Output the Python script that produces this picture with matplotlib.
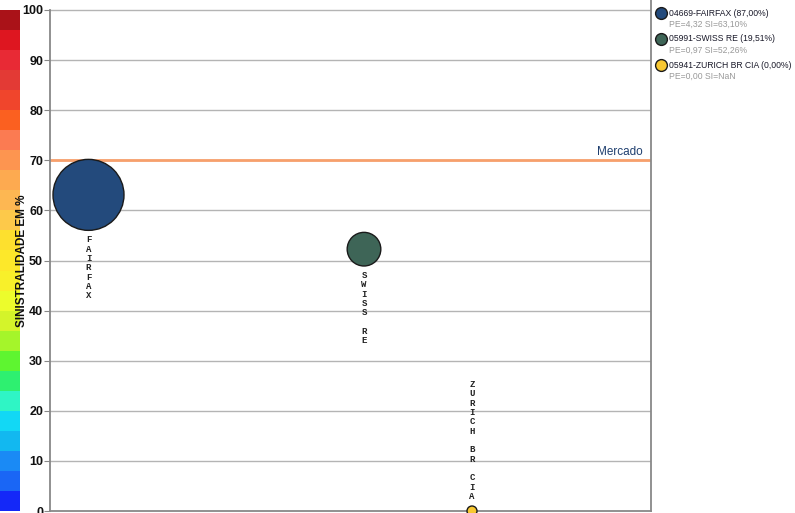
import numpy as np
import matplotlib.pyplot as plt

# data
names = ["FAIRFAX", "SWISS RE", "ZURICH BR CIA"]
codes = ["04669", "05991", "05941"]
shares = ["87,00%", "19,51%", "0,00%"]
pe = [4.32, 0.97, 0.00]
si = [63.10, 52.26, 0.0]
si_text = ["63,10%", "52,26%", "NaN"]
xpos = [38.5, 314, 422]
colors = ["#234a7c", "#3e6557", "#f8c832"]
mercado = 70

band_colors = ["#1428f8", "#1a66f5", "#1a8af5", "#12b8f0", "#12d8f5",
               "#2ff5c5", "#2ef070", "#5ef530", "#a5f52a", "#d4f42a",
               "#ecfc2c", "#f8f02a", "#fde82a", "#fde02e", "#fdc94a",
               "#fdb752", "#fdaa50", "#fd9550", "#fb7b52", "#fb6020",
               "#f0452c", "#e33a35", "#e82a35", "#de1620", "#aa1218"]

plt.rcParams["font.family"] = ["Liberation Sans", "DejaVu Sans"]

fig = plt.figure(figsize=(7.95, 5.13), dpi=100)
ytop = 100 * 511 / 501.0

# colour scale on the left (added first so the axis label sits on top)
cax = fig.add_axes([0, 2 / 513, 20 / 795, 511 / 513])
cax.set_xlim(0, 1)
cax.set_ylim(0, ytop)
step = 100 / len(band_colors)
cax.bar(np.zeros(len(band_colors)) + 0.5, step, bottom=np.arange(len(band_colors)) * step,
        width=1, color=band_colors, linewidth=0)
cax.axis("off")

ax = fig.add_axes([50 / 795, 2 / 513, 601 / 795, 511 / 513])
ax.set_xlim(0, 601)
ax.set_ylim(0, ytop)
ax.patch.set_alpha(0)

for y in range(10, 101, 10):
    ax.axhline(y, color="#b4b4b4", lw=1, zorder=0)

ax.axhline(mercado, color="#f7a06c", lw=2, zorder=1)
ax.text(593, mercado + 0.4, "Mercado", ha="right", va="bottom", fontsize=8.5, color="#1f3f6f")

radius_px = [max(17.08 * np.sqrt(p), 5) for p in pe]
sizes = [(2 * r * 0.72) ** 2 for r in radius_px]
ax.scatter(xpos, si, s=sizes, c=colors, edgecolors="#1a1a1a", linewidths=1, zorder=3, clip_on=False)

px_per_unit = 501 / 100.0
for x, y, r, n in zip(xpos, si, radius_px, names):
    txt = "\n".join(list(n))
    if y > 20:
        ypos, va = y - (r + 5) / px_per_unit, "top"
    else:
        ypos, va = y + (r + 5) / px_per_unit, "bottom"
    ax.text(x, ypos, txt, ha="center", va=va, fontsize=6.5,
            family=["Liberation Mono", "DejaVu Sans Mono"], weight="bold",
            linespacing=1.05, color="#222222", zorder=4)

ax.set_xticks([])
ax.set_yticks(range(0, 101, 10))
ax.tick_params(axis="y", length=4, color="#888888", pad=1)
for lab in ax.get_yticklabels():
    lab.set_fontweight("bold")
    lab.set_fontsize(9)
    lab.set_color("#111111")
ax.spines["top"].set_visible(False)
ax.spines["left"].set_bounds(0, 100)
for s in ["left", "right", "bottom"]:
    ax.spines[s].set_color("#888888")
    ax.spines[s].set_linewidth(1.3)
ax.set_ylabel("SINISTRALIDADE EM %", fontsize=8.5, fontweight="bold", color="#111111")
ax.yaxis.set_label_coords(-0.036, 0.49)

# legend
for i in range(len(names)):
    ytxt = 1 - (13 + 26 * i) / 513
    fig.add_artist(plt.Line2D([661 / 795], [ytxt], marker="o", markersize=8.5,
                              markerfacecolor=colors[i], markeredgecolor="#1a1a1a",
                              markeredgewidth=1, transform=fig.transFigure))
    fig.text(669 / 795, ytxt, f"{codes[i]}-{names[i]} ({shares[i]})", fontsize=6.2,
             color="#1a1a2a", va="center")
    fig.text(669 / 795, ytxt - 11 / 513, f"PE={pe[i]:.2f}".replace(".", ",") + f" SI={si_text[i]}",
             fontsize=6.2, color="#999999", va="center")

fig.savefig("out.png", dpi=100)
